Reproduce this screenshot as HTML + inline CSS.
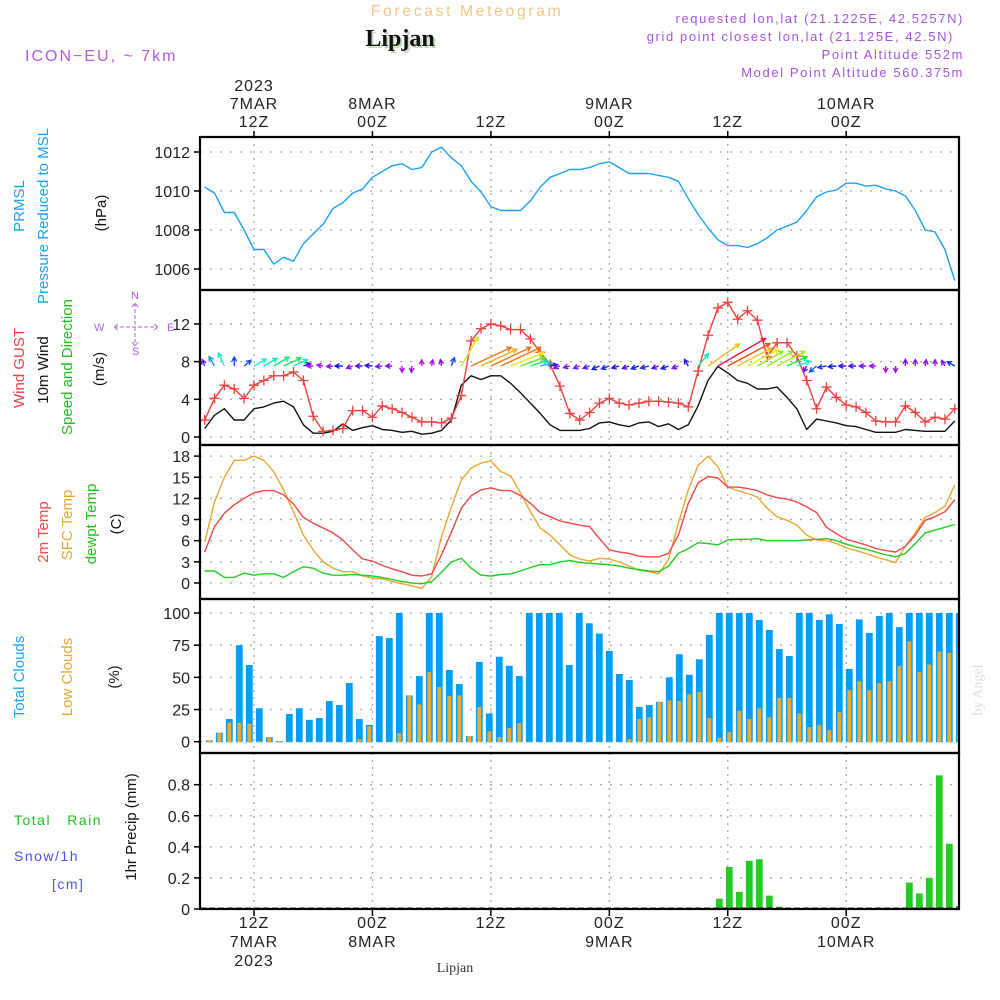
<!DOCTYPE html>
<html><head><meta charset="utf-8"><style>
html,body{margin:0;padding:0;background:#fff;}
svg{display:block;font-family:"Liberation Sans",sans-serif;}
</style></head><body>
<svg id="chart" width="1000" height="1000" viewBox="0 0 1000 1000" xmlns="http://www.w3.org/2000/svg">
<g id="hdr">
<text x="467" y="16" text-anchor="middle" font-size="16" letter-spacing="2.5" fill="#f2c88a">Forecast Meteogram</text>
<text x="402" y="48" text-anchor="middle" font-family="Liberation Serif,serif" font-weight="bold" font-size="24" fill="#c8d8c0">Lipjan</text>
<text x="400" y="46" text-anchor="middle" font-family="Liberation Serif,serif" font-weight="bold" font-size="24" fill="#111">Lipjan</text>
<text x="25" y="61" font-size="16" letter-spacing="2" fill="#b05ce8">ICON−EU, ~ 7km</text>
<g font-size="13" letter-spacing="1.6" fill="#a455e0" text-anchor="end">
<text x="964" y="23">requested lon,lat (21.1225E, 42.5257N)</text>
<text x="954" y="41">grid point closest lon,lat (21.125E, 42.5N)</text>
<text x="964" y="59">Point Altitude 552m</text>
<text x="964" y="77">Model Point Altitude 560.375m</text>
</g>
</g>
<g id="grid"></g>
<g id="marks"></g>
<g id="frames"></g>
<g id="labels" font-size="16" fill="#222"></g>
</svg>
<script>
// ---- data (hourly, t = hours relative to 12Z 7MAR, from -5 to 71) ----
const hourStart = -5;
const pressure = [1010.2,1009.9,1008.9,1008.9,1008.0,1007.0,1007.0,1006.25,1006.6,1006.4,1007.3,1007.8,1008.3,1009.1,1009.4,1009.9,1010.1,1010.7,1011.0,1011.3,1011.4,1011.1,1011.2,1012.0,1012.25,1011.7,1011.3,1010.5,1009.95,1009.2,1009.0,1009.0,1009.0,1009.5,1010.2,1010.7,1010.9,1011.1,1011.1,1011.2,1011.4,1011.5,1011.2,1010.9,1010.9,1010.9,1010.8,1010.7,1010.5,1009.6,1008.8,1008.1,1007.5,1007.2,1007.2,1007.1,1007.3,1007.6,1008.0,1008.2,1008.4,1009.0,1009.7,1009.95,1010.05,1010.4,1010.4,1010.25,1010.3,1010.1,1010.0,1009.75,1009.0,1008.0,1007.9,1007.0,1005.4];
const gust = [1.8,4.1,5.5,5.1,4.1,5.5,6.0,6.5,6.5,6.9,6.0,2.2,0.6,0.7,0.9,2.8,2.8,2.1,3.3,3.0,2.6,2.1,1.6,1.6,1.5,2.0,4.4,10.2,11.5,12.0,11.8,11.4,11.4,10.4,9.0,7.7,5.4,2.5,1.8,2.6,3.6,4.1,3.6,3.4,3.6,3.8,3.8,3.7,3.6,3.2,7.0,10.8,13.7,14.3,12.5,13.4,12.4,8.5,10.0,10.0,8.6,6.0,3.0,5.3,4.2,3.4,3.2,2.6,1.7,1.6,1.6,3.3,2.6,1.6,2.1,1.9,3.0];
const wind10 = [0.9,2.3,3.0,1.8,1.8,3.0,3.2,3.6,3.8,3.2,1.3,0.4,0.4,0.6,1.4,0.7,1.0,1.2,0.8,0.7,0.5,0.6,0.3,0.4,0.7,1.8,5.5,6.5,6.1,6.5,6.5,5.7,4.7,3.6,2.5,1.3,0.7,0.7,0.7,0.9,1.5,1.6,1.3,1.1,1.5,1.6,1.1,1.4,0.8,1.3,3.3,6.0,7.5,6.8,6.0,5.7,5.1,5.1,5.3,4.2,3.0,0.8,1.9,1.7,1.5,1.2,1.1,0.8,0.5,0.5,0.5,0.8,0.7,0.6,0.6,0.6,1.7];
const windDirTo = [340,330,335,0,50,60,60,60,65,65,70,270,280,265,270,250,270,275,265,270,180,185,0,10,350,20,30,65,65,65,65,68,70,72,75,80,250,255,250,250,245,250,255,250,250,255,250,250,250,330,40,55,60,62,62,62,60,60,62,65,70,210,230,260,265,270,270,270,270,180,180,0,0,10,0,330,300];
const t2m = [4.4,8.0,9.9,11.1,12.0,12.8,13.1,13.1,12.5,11.2,9.3,8.5,7.8,7.1,6.1,4.7,3.4,3.1,2.5,2.0,1.6,1.1,1.0,1.3,4.0,7.2,10.6,12.4,13.2,13.5,13.1,13.1,12.4,11.3,10.0,9.4,8.8,8.5,8.2,8.0,6.3,4.7,4.4,4.2,3.8,3.7,3.7,4.2,6.8,11.3,14.2,15.1,14.9,13.6,13.6,13.4,13.1,12.5,12.1,11.9,11.5,10.8,10.0,7.9,7.0,6.2,5.8,5.4,4.9,4.6,4.4,5.2,6.8,8.9,9.4,10.1,11.8];
const tSfc = [5.8,11.5,15.0,17.4,17.4,18.0,17.4,15.8,13.2,10.1,6.8,4.7,3.0,2.1,1.6,1.6,1.0,0.7,0.6,0.2,-0.1,-0.4,-0.8,0.9,6.6,10.8,14.6,16.3,17.0,17.3,15.8,15.2,12.8,10.1,7.8,6.8,5.4,4.0,3.4,3.1,3.5,3.4,3.0,2.4,1.8,1.6,1.3,3.3,8.5,13.2,16.7,18.0,16.5,13.6,13.1,12.7,12.2,10.6,9.4,8.9,8.2,6.8,6.1,6.0,5.6,5.0,4.6,4.2,3.7,3.3,2.9,5.2,7.1,9.3,10.0,10.9,13.9];
const dewpt = [1.7,1.7,0.8,0.8,1.4,1.1,1.3,1.3,0.8,1.6,2.3,2.1,1.4,1.1,1.1,1.2,1.1,1.0,0.8,0.5,0.2,0.0,-0.1,0.2,1.5,3.0,3.5,2.1,1.1,1.0,1.2,1.3,1.7,2.2,2.6,2.6,3.0,3.2,2.9,2.8,2.7,2.6,2.4,2.1,1.9,1.7,1.6,2.4,4.2,4.9,5.7,5.6,5.4,6.1,6.2,6.2,6.3,6.0,6.0,6.0,6.0,6.1,6.2,6.3,6.0,5.5,5.1,4.8,4.4,4.0,3.7,4.2,5.6,7.1,7.5,7.9,8.3];
// bars: 76 hourly bars
const totalClouds = [1,7,17.6,75,59.6,26,3.6,0.5,21.5,26,17,18.4,31.6,28.5,45.6,17.6,13,82,80.6,100,36,51,100,100,55.7,44.8,4.4,62,22,66,59,51,100,100,100,100,59.6,100,92,84,70.5,52.6,48,27,28.5,31,50,68,52,64,83,100,100,100,100,94.6,86.8,72,66.6,100,100,94.6,99,91.5,56.5,95,84.5,97.7,100,89,100,100,100,100,100,100];
const lowClouds = [1,7,14.8,14.8,14,0.5,3.6,0.5,0,0,0,0,0,0,0,2,12,0,0,6.7,36,29,54,42.5,35.5,36,4.4,27,8,3.6,10.6,14.5,0,0,0,0,0,0,0,0,0,0,2,17.6,19,31,32,31.6,37,38.6,18.4,3,7.5,24,17.6,26,19,34,34,22,11.4,13,9,23,40,47,40,45.6,47,59,78,54,60,70,69,70.5];
const precip = [0,0,0,0,0,0,0,0,0,0,0,0,0,0,0,0,0,0,0,0,0,0,0,0,0,0,0,0,0,0,0,0,0,0,0,0,0,0,0,0,0,0,0,0,0,0,0,0,0,0,0,0.066,0.27,0.11,0.31,0.32,0.086,0.015,0,0,0,0,0,0,0,0,0,0,0,0,0.17,0.10,0.20,0.86,0.42,0.02];
const pTicks = [1006,1008,1010,1012];
const wTicks = [0,4,8,12];
const tTicks = [0,3,6,9,12,15,18];
const cTicks = [0,25,50,75,100];
const rTicks = [0,0.2,0.4,0.6,0.8];
const timeGridHours = [0,12,24,36,48,60];
const topTimeLabels = [["2023","7MAR","12Z"],["","8MAR","00Z"],["","","12Z"],["","9MAR","00Z"],["","","12Z"],["","10MAR","00Z"]];
const botTimeLabels = [["12Z","7MAR","2023"],["00Z","8MAR",""],["12Z","",""],["00Z","9MAR",""],["12Z","",""],["00Z","10MAR",""]];

// ---- scales ----
const L=200,R=959;
const xT = t => 254 + t*9.87;
const xBar = k => 209.3 + k*10;
const yP = p => 152 + (1012-p)*19.5;
const yW = v => 437 - v*9.42;
const yT = v => 583 - v*7.05;
const yC = v => 741.7 - v*1.287;
const yR = v => 909 - v*155.4;
const panels = [[137,290],[290,445],[445,599],[599,753],[753,909]];

const NS="http://www.w3.org/2000/svg";
function mk(tag,parent){const e=document.createElementNS(NS,tag);parent.appendChild(e);return e;}
const grid=document.getElementById('grid'),marks=document.getElementById('marks'),frames=document.getElementById('frames'),labels=document.getElementById('labels');

function yAxis(ticks,yf,fmt,name){
  ticks.forEach(v=>{
    const y=yf(v);
    const g=mk('line',grid);
    
    
    g.setAttribute('x1',L);g.setAttribute('x2',R);g.setAttribute('y1',y);g.setAttribute('y2',y);
    g.setAttribute('stroke','#aaa');g.setAttribute('stroke-width','1.3');g.setAttribute('stroke-dasharray','2 8');
    const tk=mk('line',frames);
    
    
    tk.setAttribute('x1',L-6);tk.setAttribute('x2',L);tk.setAttribute('y1',y);tk.setAttribute('y2',y);tk.setAttribute('stroke','#000');tk.setAttribute('stroke-width','1.5');
    const tx=mk('text',labels);
    
    
    tx.setAttribute('x',L-10);tx.setAttribute('y',y+6);tx.setAttribute('text-anchor','end');tx.textContent=fmt(v);
  });
}
yAxis(pTicks,yP,v=>String(v),'pressure');
yAxis(wTicks,yW,v=>String(v),'wind');
yAxis(tTicks,yT,v=>String(v),'temp');
yAxis(cTicks,yC,v=>String(v),'clouds');
yAxis(rTicks,yR,v=>v===0?'0':v.toFixed(1),'precip');

timeGridHours.forEach((h,i)=>{
  const x=xT(h);
  const g=mk('line',grid);
  
  
  g.setAttribute('x1',x);g.setAttribute('x2',x);g.setAttribute('y1',137);g.setAttribute('y2',909);
  g.setAttribute('stroke','#aaa');g.setAttribute('stroke-width','1.3');g.setAttribute('stroke-dasharray','2 5');
  [[131,137],[909,916]].forEach(p=>{
    const tk=mk('line',frames);
    
    
    tk.setAttribute('x1',x);tk.setAttribute('x2',x);tk.setAttribute('y1',p[0]);tk.setAttribute('y2',p[1]);tk.setAttribute('stroke','#000');tk.setAttribute('stroke-width','1.5');
  });
  topTimeLabels[i].forEach((s,j)=>{ if(!s) return;
    const tx=mk('text',labels);
    
    
    tx.setAttribute('x',x);tx.setAttribute('y',91+j*18);tx.setAttribute('text-anchor','middle');tx.setAttribute('letter-spacing','1');tx.textContent=s;});
  botTimeLabels[i].forEach((s,j)=>{ if(!s) return;
    const tx=mk('text',labels);
    
    
    tx.setAttribute('x',x);tx.setAttribute('y',928+j*19);tx.setAttribute('text-anchor','middle');tx.setAttribute('letter-spacing','1');tx.textContent=s;});
});

function line(arr,yf,color,name,w){
  const p=mk('polyline',marks);
  
  
  p.setAttribute('points',arr.map((v,i)=>xT(hourStart+i).toFixed(1)+','+yf(v).toFixed(1)).join(' '));
  p.setAttribute('fill','none');p.setAttribute('stroke',color);p.setAttribute('stroke-width',w||1.4);p.setAttribute('stroke-linejoin','round');
  return p;
}
line(pressure,yP,'#1aa3f5','pressure-line');
line(wind10,yW,'#111','wind10m-line');
line(gust,yW,'#f04040','gust-line');
gust.forEach((v,i)=>{
  const x=xT(hourStart+i),y=yW(v);
  const m=mk('path',marks);
  
  
  m.setAttribute('d',`M${x-5},${y}H${x+5}M${x},${y-5}V${y+5}`);
  m.setAttribute('stroke','#f04040');m.setAttribute('stroke-width','1.3');
});
const arrowBase=366;
wind10.forEach((s,i)=>{
  const x=xT(hourStart+i);
  const len=Math.min(55,6+s*s*0.9);
  const a=windDirTo[i]*Math.PI/180;
  const dx=Math.sin(a)*len,dy=-Math.cos(a)*len;
  const hue=((300-42*s)%360+360)%360;
  const col=`hsl(${hue},85%,50%)`;
  const x2=x+dx,y2=arrowBase+dy;
  const hl=5,ang=Math.atan2(dy,dx);
  const h1x=x2-hl*Math.cos(ang-0.5),h1y=y2-hl*Math.sin(ang-0.5);
  const h2x=x2-hl*Math.cos(ang+0.5),h2y=y2-hl*Math.sin(ang+0.5);
  const p=mk('path',marks);
  
  
  p.setAttribute('d',`M${x},${arrowBase}L${x2},${y2}M${h1x},${h1y}L${x2},${y2}L${h2x},${h2y}`);
  p.setAttribute('stroke',col);p.setAttribute('stroke-width','1.4');p.setAttribute('fill','none');
});
line(tSfc,yT,'#e8a830','sfc-temp-line');
line(t2m,yT,'#f04848','2m-temp-line');
line(dewpt,yT,'#20d020','dewpoint-line');
totalClouds.forEach((v,k)=>{
  const r=mk('rect',marks);
  
  
  const x=xBar(k)-3.4, w=Math.min(6.8,R-x);
  r.setAttribute('x',x);r.setAttribute('width',Math.max(0,w));r.setAttribute('y',yC(v));r.setAttribute('height',yC(0)-yC(v)+0.5);r.setAttribute('fill','#009ef8');
});
lowClouds.forEach((v,k)=>{
  const r=mk('rect',marks);
  
  
  const x=xBar(k)-2, w=Math.min(4,R-x);
  r.setAttribute('x',x);r.setAttribute('width',Math.max(0,w));r.setAttribute('y',yC(v));r.setAttribute('height',yC(0)-yC(v)+0.5);r.setAttribute('fill','#e8aa30');
});
precip.forEach((v,k)=>{
  if(v<=0) return;
  const r=mk('rect',marks);
  
  
  const x=xBar(k)-3.4, w=Math.min(6.8,R-x);
  r.setAttribute('x',x);r.setAttribute('width',Math.max(0,w));r.setAttribute('y',yR(v));r.setAttribute('height',yR(0)-yR(v));r.setAttribute('fill','#22cc22');
});
const base=mk('line',marks);


base.setAttribute('x1',L);base.setAttribute('x2',R);base.setAttribute('y1',908);base.setAttribute('y2',908);base.setAttribute('stroke','#222');base.setAttribute('stroke-dasharray','6 3');
panels.forEach(p=>{
  const r=mk('rect',frames);
  
  
  r.setAttribute('x',L);r.setAttribute('y',p[0]);r.setAttribute('width',R-L);r.setAttribute('height',p[1]-p[0]);
  r.setAttribute('fill','none');r.setAttribute('stroke','#000');r.setAttribute('stroke-width','2.2');
});
</script>
<div style="position:absolute;left:0;top:0;width:1000px;height:1000px;pointer-events:none">
<svg width="1000" height="1000" style="font-family:'Liberation Sans',sans-serif">
<g font-size="15">
<text transform="translate(24,206) rotate(-90)" text-anchor="middle" fill="#1aa3f5">PRMSL</text>
<text transform="translate(48,216) rotate(-90)" text-anchor="middle" fill="#1aa3f5">Pressure Reduced to MSL</text>
<text transform="translate(106,213) rotate(-90)" text-anchor="middle" fill="#111">(hPa)</text>
<text transform="translate(24,368) rotate(-90)" text-anchor="middle" fill="#f04040">Wind GUST</text>
<text transform="translate(48,370) rotate(-90)" text-anchor="middle" fill="#111">10m Wind</text>
<text transform="translate(72,367) rotate(-90)" text-anchor="middle" fill="#20c020">Speed and Direction</text>
<text transform="translate(104,369) rotate(-90)" text-anchor="middle" fill="#111">(m/s)</text>
<text transform="translate(48,532) rotate(-90)" text-anchor="middle" fill="#f04848">2m Temp</text>
<text transform="translate(72,525) rotate(-90)" text-anchor="middle" fill="#e8a830">SFC Temp</text>
<text transform="translate(96,524) rotate(-90)" text-anchor="middle" fill="#20c020">dewpt Temp</text>
<text transform="translate(121,524) rotate(-90)" text-anchor="middle" fill="#111">(C)</text>
<text transform="translate(24,677) rotate(-90)" text-anchor="middle" fill="#1aa3f5">Total Clouds</text>
<text transform="translate(72,677) rotate(-90)" text-anchor="middle" fill="#e8a830">Low Clouds</text>
<text transform="translate(119,677) rotate(-90)" text-anchor="middle" fill="#111">(%)</text>
<text transform="translate(136,827) rotate(-90)" text-anchor="middle" fill="#111">1hr Precip (mm)</text>
</g>
<g font-size="14" letter-spacing="1.5">
<text x="14" y="825" fill="#20c020" style="white-space:pre">Total   Rain</text>
<text x="14" y="861" fill="#5050f0">Snow/1h</text>
<text x="52" y="889" fill="#5050f0">[cm]</text>
</g>
<g fill="#b060e8" font-size="11" stroke="#b060e8" stroke-width="1">
<text x="131" y="299" stroke="none">N</text>
<text x="94" y="331" stroke="none">W</text>
<text x="167" y="331" stroke="none">E</text>
<text x="132" y="355" stroke="none">S</text>
<path d="M135,303V346M114,327H158M118,324L114,327L118,330M154,324L158,327L154,330M132,307L135,303L138,307M132,342L135,346L138,342" fill="none" stroke-dasharray="4 2"/>
</g>
<text transform="translate(982,690) rotate(-90)" text-anchor="middle" font-family="Liberation Serif,serif" font-size="14" fill="#ddd">by Angel</text>
<text x="455" y="972" text-anchor="middle" font-family="Liberation Serif,serif" font-size="14" fill="#333">Lipjan</text>
</svg>
</div>
</body></html>
